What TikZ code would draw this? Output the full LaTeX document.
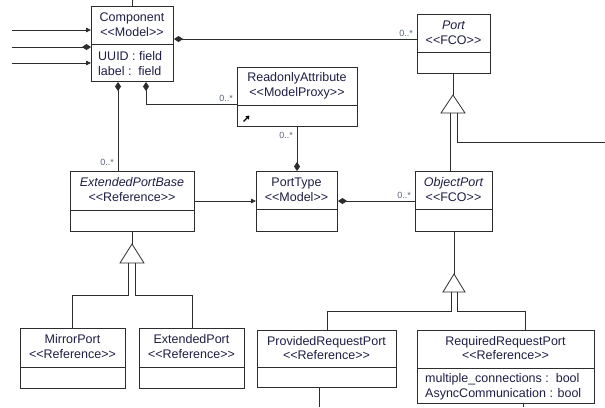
\documentclass[tikz,border=0pt]{standalone}
\usepackage{fontspec}
\setmainfont{Liberation Sans}[Ligatures=TeXOff]
\usetikzlibrary{arrows.meta,calc}
\definecolor{txt}{RGB}{30,30,70}
\definecolor{ln}{RGB}{45,45,45}
\definecolor{mult}{RGB}{90,100,125}
\tikzset{
 cls/.style={draw=ln, line width=1pt, fill=white, anchor=north west, inner sep=0pt},
 ttl/.style={text=txt, font=\fontsize{12.5}{14}\selectfont, inner sep=0pt, anchor=base, yshift=-4.5pt},
 ttli/.style={ttl, font=\fontsize{12.5}{14}\selectfont\itshape},
 attr/.style={ttl, anchor=base west},
 mul/.style={text=mult, font=\fontsize{9}{10}\selectfont, inner sep=0pt, anchor=base east, yshift=-3pt},
 conn/.style={draw=ln, line width=0.8pt},
 dstart/.style={conn, {Diamond[length=9pt,width=6pt,fill=ln]}-},
 dend/.style={conn, -{Diamond[length=9pt,width=6pt,fill=ln]}},
 nav/.style={conn, -{Triangle[length=5pt,width=4.5pt]}},
 gen/.style={draw=ln, line width=0.8pt, fill=white, line join=miter},
 div/.style={draw=ln, line width=1pt},
}
\begin{document}
\begin{tikzpicture}[x=1pt,y=-1pt]
\useasboundingbox[fill=white] (0,0) rectangle (605,407);

% ---------- classes ----------
\node[cls, minimum width=82, minimum height=75] (comp) at (91,6) {};
\draw[div] (comp.west |- 0,44) -- (comp.east |- 0,44);
\node[ttl] (compt) at (132,17) {Component};
\node[ttl] (comps) at (132,32) {<<Model>>};
\node[attr] (compa1) at (98,56) {UUID : field};
\node[attr] (compa2) at (98,71) {label :\ \ field};

\node[cls, minimum width=120, minimum height=59] (ra) at (237,67) {};
\draw[div] (ra.west |- 0,105) -- (ra.east |- 0,105);
\node[ttl] (rat) at (297,77) {ReadonlyAttribute};
\node[ttl] (ras) at (297,92) {<<ModelProxy>>};
\coordinate (icA) at (243.5,121.5);
\coordinate (icB) at (249.5,115.5);
\draw[line width=1.4pt, black, -{Triangle[length=3.5pt,width=4.5pt]}] (icA) -- (icB);

\node[cls, minimum width=73, minimum height=59] (port) at (417,14) {};
\draw[div] (port.west |- 0,52) -- (port.east |- 0,52);
\node[ttli] (portt) at (453.5,25) {Port};
\node[ttl] (ports) at (453.5,40) {<<FCO>>};

\node[cls, minimum width=124, minimum height=60] (epb) at (70,171) {};
\draw[div] (epb.west |- 0,210) -- (epb.east |- 0,210);
\node[ttli] (epbt) at (132,182) {ExtendedPortBase};
\node[ttl] (epbs) at (132,197) {<<Reference>>};

\node[cls, minimum width=81, minimum height=60] (pt) at (256,171) {};
\draw[div] (pt.west |- 0,209) -- (pt.east |- 0,209);
\node[ttl] (ptt) at (296.5,182) {PortType};
\node[ttl] (pts) at (296.5,197) {<<Model>>};

\node[cls, minimum width=77, minimum height=60] (op) at (415,171) {};
\draw[div] (op.west |- 0,209) -- (op.east |- 0,209);
\node[ttli] (opt) at (453.5,182) {ObjectPort};
\node[ttl] (ops) at (453.5,197) {<<FCO>>};

\node[cls, minimum width=105, minimum height=60] (mp) at (20,328) {};
\draw[div] (mp.west |- 0,367) -- (mp.east |- 0,367);
\node[ttl] (mpt) at (72.5,339) {MirrorPort};
\node[ttl] (mps) at (72.5,354) {<<Reference>>};

\node[cls, minimum width=105, minimum height=60] (ep) at (139,328) {};
\draw[div] (ep.west |- 0,367) -- (ep.east |- 0,367);
\node[ttl] (ept) at (191.5,339) {ExtendedPort};
\node[ttl] (eps) at (191.5,354) {<<Reference>>};

\node[cls, minimum width=139, minimum height=57] (prp) at (257,330) {};
\draw[div] (prp.west |- 0,367) -- (prp.east |- 0,367);
\node[ttl] (prpt) at (326.5,341) {ProvidedRequestPort};
\node[ttl] (prps) at (326.5,355) {<<Reference>>};

\node[cls, minimum width=177, minimum height=73] (rrp) at (417,330) {};
\draw[div] (rrp.west |- 0,368) -- (rrp.east |- 0,368);
\node[ttl] (rrpt) at (505.5,341) {RequiredRequestPort};
\node[ttl] (rrps) at (505.5,355) {<<Reference>>};
\node[attr] (rrpa1) at (425,378) {multiple\_connections :\ \ bool};
\node[attr] (rrpa2) at (425,393) {AsyncCommunication : bool};

% ---------- free ends ----------
\coordinate (l1) at (12,30);
\coordinate (l2) at (12,47);
\coordinate (l3) at (12,63);
\coordinate (t0) at (132,0);
\coordinate (rEdge) at (605,142);
\coordinate (b1) at (319,407);
\coordinate (b2) at (523,407);

% ---------- connectors ----------
\draw[nav] (l1) -- (l1 -| comp.west);
\draw[dend] (l2) -- (l2 -| comp.west);
\draw[nav] (l3) -- (l3 -| comp.west);
\draw[conn] (t0) -- (t0 |- comp.north);

\draw[dstart] (comp.east |- 0,39) -- (port.west |- 0,39);
\node[mul] (m1) at (413,33) {0..*};

\draw[dstart] (comp.south -| 118,0) -- (epb.north -| 118,0);
\node[mul] (m2) at (114,162) {0..*};

\draw[dstart] (comp.south -| 146,0) |- (ra.west |- 0,104);
\node[mul] (m3) at (233,98) {0..*};

\draw[dend] (ra.south -| 297,0) -- (pt.north -| 297,0);
\node[mul] (m4) at (293,135) {0..*};

\draw[nav] (epb.east |- 0,201) -- (pt.west |- 0,201);

\draw[dstart] (pt.east |- 0,201) -- (op.west |- 0,201);
\node[mul] (m5) at (411,195) {0..*};

% generalization Port
\coordinate (g1) at (453,95);
\draw[conn] (port.south -| g1) -- (g1);
\draw[gen] (g1) -- ($(g1)+(12,18)$) -- ($(g1)+(-12,18)$) -- cycle;
\draw[conn] ($(g1)+(-3,18)$) -- (op.north -| 450,0);
\draw[conn] ($(g1)+(4,18)$) |- (rEdge);

% generalization ObjectPort
\coordinate (g2) at (454,274);
\draw[conn] (op.south -| g2) -- (g2);
\draw[gen] (g2) -- ($(g2)+(11,18)$) -- ($(g2)+(-11,18)$) -- cycle;
\draw[conn] ($(g2)+(-3,18)$) |- (327,311) -- (prp.north -| 327,0);
\draw[conn] ($(g2)+(3,18)$) |- (525,311) -- (rrp.north -| 525,0);
\draw[conn] (prp.south -| b1) -- (b1);
\draw[conn] (rrp.south -| b2) -- (b2);

% generalization ExtendedPortBase
\coordinate (g3) at (132,244);
\draw[conn] (epb.south -| g3) -- (g3);
\draw[gen] (g3) -- ($(g3)+(12,19)$) -- ($(g3)+(-12,19)$) -- cycle;
\draw[conn] ($(g3)+(-4,19)$) |- (72,295) -- (mp.north -| 72,0);
\draw[conn] ($(g3)+(3,19)$) |- (192,295) -- (ep.north -| 192,0);
\end{tikzpicture}
\end{document}
